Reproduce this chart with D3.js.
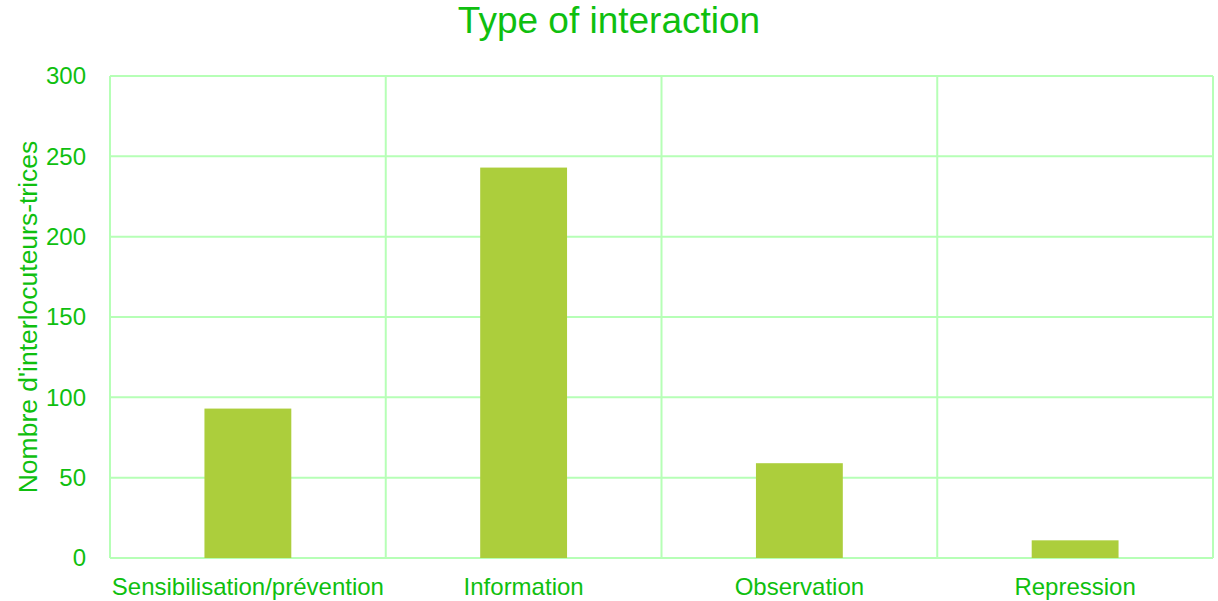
<!DOCTYPE html>
<html>
<head>
<meta charset="utf-8">
<script src="https://cdn.jsdelivr.net/npm/d3@7"></script>
<style>
  body { margin: 0; background: #fff; }
  svg { font-family: "Liberation Sans", Arial, sans-serif; }
</style>
</head>
<body>
<div id="chart"></div>
<script>
// values
let categories = ['Sensibilisation/prévention', 'Information', 'Observation', 'Repression'];
let counts = [93, 243, 59, 11];
let yTicks = [0, 50, 100, 150, 200, 250, 300];
let title = 'Type of interaction';
let yTitle = "Nombre d'interlocuteurs-trices";

let width = 1218, height = 601;
let margin = { top: 76, right: 5, bottom: 43, left: 110 };
let textColor = '#0fbf0f';
let gridColor = '#b6ffb6';
let barColor = '#acce3c';

let svg = d3.select('#chart')
    .append('svg')
    .attr('width', width)
    .attr('height', height);

let x = d3.scaleBand()
    .domain(categories)
    .range([margin.left, width - margin.right]);

let y = d3.scaleLinear()
    .domain([0, 300])
    .range([height - margin.bottom, margin.top]);

// horizontal gridlines
svg.append('g')
    .selectAll('line')
    .data(yTicks)
    .join('line')
    .attr('x1', margin.left)
    .attr('x2', width - margin.right)
    .attr('y1', d => y(d))
    .attr('y2', d => y(d))
    .attr('stroke', gridColor)
    .attr('stroke-width', 2);

// vertical category separators
let seps = categories.map(c => x(c)).concat([x(categories[categories.length - 1]) + x.bandwidth()]);
svg.append('g')
    .selectAll('line')
    .data(seps)
    .join('line')
    .attr('x1', d => d)
    .attr('x2', d => d)
    .attr('y1', y(300))
    .attr('y2', y(0))
    .attr('stroke', gridColor)
    .attr('stroke-width', 2);

let barW = x.bandwidth() * 0.315;

svg.append('g')
    .selectAll('rect')
    .data(categories)
    .join('rect')
    .attr('x', d => x(d) + x.bandwidth() / 2 - barW / 2)
    .attr('y', (d, i) => y(counts[i]))
    .attr('width', barW)
    .attr('height', (d, i) => y(0) - y(counts[i]))
    .attr('fill', barColor);

// y tick labels
svg.append('g')
    .attr('font-size', 24)
    .attr('fill', textColor)
    .attr('text-anchor', 'end')
    .selectAll('text')
    .data(yTicks)
    .join('text')
    .attr('x', margin.left - 24)
    .attr('y', d => y(d))
    .attr('dy', '0.35em')
    .text(d => d);

// x labels
svg.append('g')
    .attr('font-size', 24)
    .attr('fill', textColor)
    .attr('text-anchor', 'middle')
    .selectAll('text')
    .data(categories)
    .join('text')
    .attr('x', d => x(d) + x.bandwidth() / 2)
    .attr('y', y(0) + 37)
    .text(d => d);

svg.append('text')
    .attr('x', width / 2)
    .attr('y', 33)
    .attr('text-anchor', 'middle')
    .attr('font-size', 37)
    .attr('fill', textColor)
    .text(title);

svg.append('text')
    .attr('transform', `translate(37, ${(y(0) + y(300)) / 2}) rotate(-90)`)
    .attr('text-anchor', 'middle')
    .attr('font-size', 26.5)
    .attr('fill', textColor)
    .text(yTitle);
</script>
</body>
</html>
